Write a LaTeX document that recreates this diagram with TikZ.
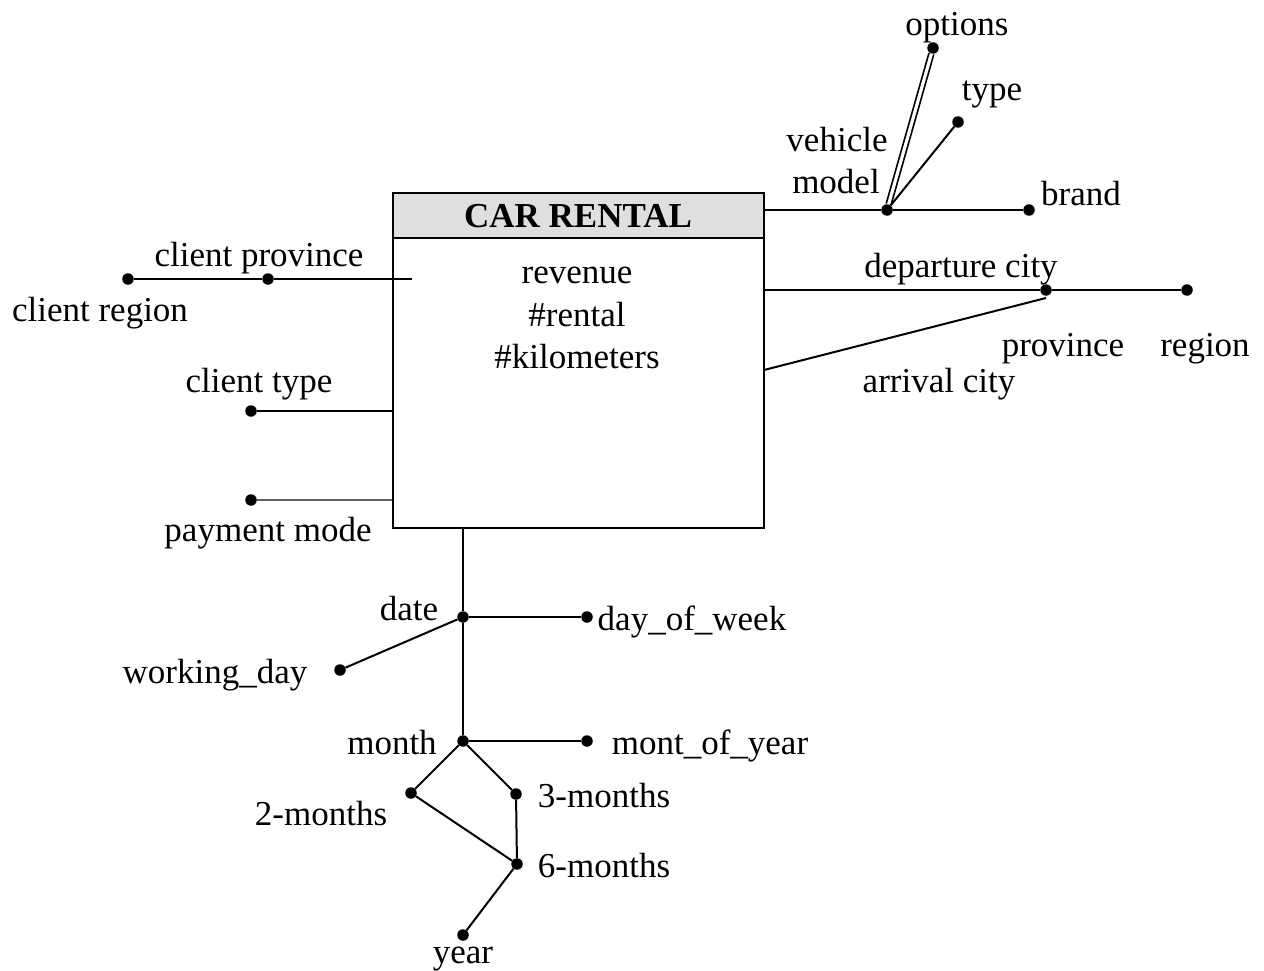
\documentclass[tikz,border=0pt]{standalone}
\usepackage{fontspec}
\setmainfont{Liberation Serif}
\begin{document}
\begin{tikzpicture}[x=1pt,y=-1pt,
 lbl/.style={inner sep=0pt, font=\fontsize{35}{42}\selectfont, text height=0.68em, text depth=0.22em, yshift=-9pt},
 dot/.style={circle, fill=black, inner sep=0pt, minimum size=11.5pt},
 conn/.style={line width=2pt},
 boxst/.style={draw, line width=2pt, inner sep=0pt, minimum width=371pt}]
\useasboundingbox (0,0) rectangle (1264,971);
% fact box
\node[boxst, fill=gray!25, minimum height=45pt] (hdr) at (578.5,215.5) {};
\node[boxst, minimum height=290pt] (body) at (578.5,383) {};
\node[lbl, font=\fontsize{35}{42}\selectfont\bfseries] (title) at (578,216) {CAR RENTAL};
\node[inner sep=0pt, align=center, font=\fontsize{35}{42.5}\selectfont] (meas) at (577,318) {revenue\\\#rental\\\#kilometers};
% dots
\node[dot] (cr) at (128,279) {};
\node[dot] (cp) at (268,279) {};
\coordinate (cin) at (412,279);
\node[dot] (ct) at (251,411) {};
\node[dot] (pm) at (251,500) {};
\node[dot] (vm) at (887,210) {};
\node[dot] (opt) at (933,48) {};
\node[dot] (typ) at (958,122) {};
\node[dot] (br) at (1029,210) {};
\node[dot] (prov) at (1046,290) {};
\node[dot] (reg) at (1187,290) {};
\coordinate (arr) at (764,370);
\coordinate (provb) at (1046,298);
\node[dot] (date) at (463,617) {};
\node[dot] (dow) at (587,617) {};
\node[dot] (wd) at (340,670) {};
\node[dot] (month) at (463,741) {};
\node[dot] (moy) at (587,741) {};
\node[dot] (m2) at (411,793) {};
\node[dot] (m3) at (516,794) {};
\node[dot] (m6) at (517,864) {};
\node[dot] (yr) at (463,935) {};
% labels
\node[lbl] (lopt) at (957,24) {options};
\node[lbl] (ltyp) at (992,89) {type};
\node[lbl] (lveh) at (837,140) {vehicle};
\node[lbl] (lmod) at (836,182) {model};
\node[lbl] (lbr) at (1081,194) {brand};
\node[lbl] (lcp) at (259,255) {client province};
\node[lbl] (lcr) at (100,310) {client region};
\node[lbl] (lct) at (259,381) {client type};
\node[lbl] (lpm) at (268,530) {payment mode};
\node[lbl] (ldep) at (961,266) {departure city};
\node[lbl] (lprov) at (1063,345) {province};
\node[lbl] (lreg) at (1205,345) {region};
\node[lbl] (larr) at (939,381) {arrival city};
\node[lbl] (ldate) at (409,609) {date};
\node[lbl] (ldow) at (692,619) {day\_of\_week};
\node[lbl] (lwd) at (215,672) {working\_day};
\node[lbl] (lmon) at (392,743) {month};
\node[lbl] (lmoy) at (710,743) {mont\_of\_year};
\node[lbl] (lm2) at (321,814) {2-months};
\node[lbl] (lm3) at (604,796) {3-months};
\node[lbl] (lm6) at (604,866) {6-months};
\node[lbl] (lyr) at (463,952) {year};
% connectors
\draw[conn] (cr) -- (cp) -- (cin);
\draw[conn] (ct) -- (ct -| body.west);
\draw[line width=2.6pt, gray!75!black] (pm) -- (pm -| body.west);
\draw[conn] (vm -| hdr.east) -- (vm) -- (br);
\draw[double, line width=1.7pt, double distance=3.2pt] (vm) -- (opt);
\draw[conn] (vm) -- (typ);
\draw[conn] (prov -| body.east) -- (prov) -- (reg);
\draw[conn] (arr) -- (provb);
\draw[conn] (date |- body.south) -- (date) -- (month);
\draw[conn] (date) -- (dow);
\draw[conn] (wd) -- (date);
\draw[conn] (month) -- (moy);
\draw[conn] (month) -- (m2) -- (m6);
\draw[conn] (month) -- (m3) -- (m6);
\draw[conn] (m6) -- (yr);
\end{tikzpicture}
\end{document}
